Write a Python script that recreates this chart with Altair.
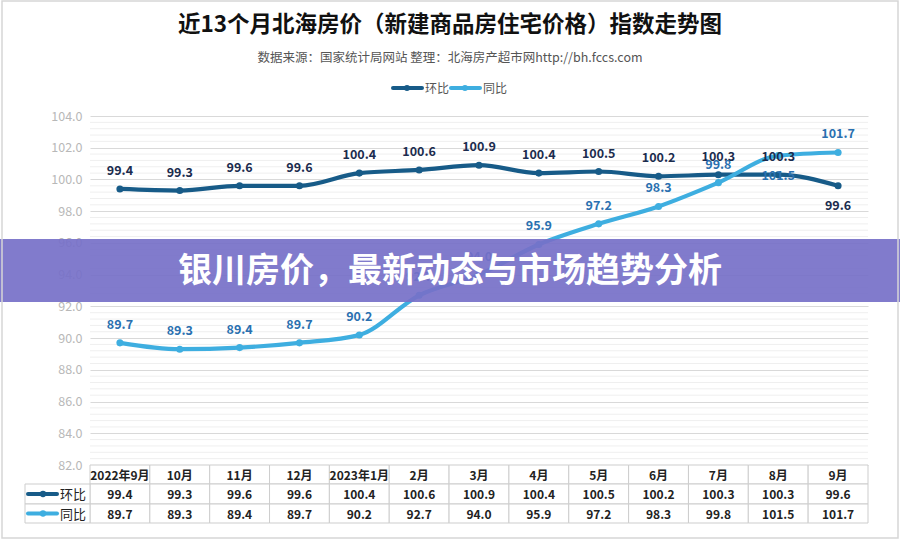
import altair as alt
import pandas as pd

months = ["2022年9月", "10月", "11月", "12月", "2023年1月", "2月", "3月",
          "4月", "5月", "6月", "7月", "8月", "9月"]
huanbi = [99.4, 99.3, 99.6, 99.6, 100.4, 100.6, 100.9, 100.4, 100.5, 100.2, 100.3, 100.3, 99.6]
tongbi = [89.7, 89.3, 89.4, 89.7, 90.2, 92.7, 94.0, 95.9, 97.2, 98.3, 99.8, 101.5, 101.7]
series_names = ["环比", "同比"]
y_ticks = [82, 84, 86, 88, 90, 92, 94, 96, 98, 100, 102, 104]

title_text = "近13个月北海房价（新建商品房住宅价格）指数走势图"
subtitle_text = "数据来源：国家统计局网站   整理：北海房产超市网http://bh.fccs.com"
banner_text = "银川房价，最新动态与市场趋势分析"

C_HB = "#175b88"
C_TB = "#3eaee0"
C_HB_LBL = "#1b2c4e"
C_TB_LBL = "#2a70b0"
FONT = "Noto Sans CJK SC"

rows = []
for m, a, b in zip(months, huanbi, tongbi):
    rows.append({"month": m, "series": "环比", "value": a, "label": f"{a:.1f}"})
    rows.append({"month": m, "series": "同比", "value": b, "label": f"{b:.1f}"})
df = pd.DataFrame(rows)
df_months = pd.DataFrame({"month": months,
                          "hb": [f"{v:.1f}" for v in huanbi],
                          "tb": [f"{v:.1f}" for v in tongbi]})

W, H = 778, 349
xscale = alt.Scale(type="band", domain=months, paddingInner=0, paddingOuter=0)
yscale = alt.Scale(domain=[82, 104], nice=False, zero=False)
X = alt.X("month:N", scale=xscale, axis=None, bandPosition=0.5)
Xband = alt.X("month:N", scale=xscale, axis=None)
color = alt.Color("series:N", scale=alt.Scale(domain=series_names, range=[C_HB, C_TB]), legend=None)

one = pd.DataFrame({"t": ["x"]})

yaxis = alt.Axis(values=y_ticks, format=".1f", labelColor="#b8b8b8", labelFontSize=12.5,
                 labelFont=FONT, ticks=False, domain=False, gridColor="#d9d9d9",
                 labelPadding=8, title=None, labelOverlap=False, labelFlush=False,
                 labelBound=False)
Y = alt.Y("value:Q", scale=yscale, axis=yaxis)

# minor gridlines
minor = alt.Chart(alt.sequence(82.4, 104.0, 0.4, as_="v")).transform_calculate(
    r="round(datum.v*10)"
).transform_filter("datum.r % 20 != 0").mark_rule(color="#efefef", strokeWidth=1).encode(
    y=alt.Y("v:Q", scale=yscale, axis=yaxis)
)

base = alt.Chart(df)
lines = base.mark_line(interpolate="monotone", strokeWidth=4.2).encode(
    x=X, y=Y, color=color, detail="series:N")
points = base.mark_circle(size=50, opacity=1).encode(x=X, y=Y, color=color)

label_layers = []
for name, lc, below_month in zip(series_names, [C_HB_LBL, C_TB_LBL], ["9月", "8月"]):
    s = base.transform_filter(alt.datum.series == name)
    label_layers.append(s.transform_filter(alt.datum.month != below_month).mark_text(
        dy=-18, font=FONT, fontSize=12.5, fontWeight="bold", color=lc
    ).encode(x=X, y=Y, text="label:N"))
    label_layers.append(s.transform_filter(alt.datum.month == below_month).mark_text(
        dy=20, font=FONT, fontSize=12.5, fontWeight="bold", color=lc
    ).encode(x=X, y=Y, text="label:N"))

# data table
tb_chart = alt.Chart(df_months)
row_bounds = [(349, 368), (368, 388), (388, 407)]
table_layers = []
for (y0, y1), field in zip(row_bounds, ["month", "hb", "tb"]):
    table_layers.append(tb_chart.mark_rect(fill="white", stroke="#cdcdcd", strokeWidth=1).encode(
        x=Xband, y=alt.value(y0), y2=alt.value(y1)))
    table_layers.append(tb_chart.mark_text(font=FONT, fontSize=12, fontWeight="bold", color="#222222").encode(
        x=X, y=alt.value((y0 + y1) / 2 + 1), text=f"{field}:N"))
for (y0, y1) in row_bounds[1:]:
    table_layers.append(alt.Chart(one).mark_rect(fill="white", stroke="#cdcdcd", strokeWidth=1).encode(
        x=alt.value(-65), x2=alt.value(0), y=alt.value(y0), y2=alt.value(y1)))
for (y0, y1), name, c in zip(row_bounds[1:], series_names, [C_HB, C_TB]):
    yc = (y0 + y1) / 2
    table_layers.append(alt.Chart(one).mark_rule(color=c, strokeWidth=4, strokeCap="round").encode(
        x=alt.value(-62), x2=alt.value(-33), y=alt.value(yc)))
    table_layers.append(alt.Chart(one).mark_circle(color=c, size=40, opacity=1).encode(
        x=alt.value(-47), y=alt.value(yc)))
    table_layers.append(alt.Chart(pd.DataFrame({"t": [name]})).mark_text(
        font=FONT, fontSize=13, align="left", color="#222222").encode(
        x=alt.value(-30), y=alt.value(yc + 1), text="t:N"))

# titles
title = alt.Chart(pd.DataFrame({"t": [title_text]})).mark_text(
    font=FONT, fontSize=22.5, fontWeight="bold", color="#111111").encode(
    x=alt.value(360), y=alt.value(-91), text="t:N")
subtitle = alt.Chart(pd.DataFrame({"t": [subtitle_text]})).mark_text(
    font=FONT, fontSize=12.5, color="#555555").encode(
    x=alt.value(360), y=alt.value(-58), text="t:N")

legend_layers = []
for name, c, x0 in zip(series_names, [C_HB, C_TB], [303, 361]):
    legend_layers.append(alt.Chart(one).mark_rule(color=c, strokeWidth=4, strokeCap="round").encode(
        x=alt.value(x0), x2=alt.value(x0 + 29), y=alt.value(-28)))
    legend_layers.append(alt.Chart(one).mark_circle(color=c, size=35, opacity=1).encode(
        x=alt.value(x0 + 14), y=alt.value(-28)))
    legend_layers.append(alt.Chart(pd.DataFrame({"t": [name]})).mark_text(
        font=FONT, fontSize=12, align="left", color="#555555").encode(
        x=alt.value(x0 + 32), y=alt.value(-27), text="t:N"))

# banner overlay
banner = alt.Chart(one).mark_rect(color="#7670c8", opacity=0.92).encode(
    x=alt.value(-90), x2=alt.value(810), y=alt.value(123), y2=alt.value(186))
banner_t = alt.Chart(pd.DataFrame({"t": [banner_text]})).mark_text(
    font=FONT, fontSize=34, fontWeight="bold", color="white").encode(
    x=alt.value(360), y=alt.value(156), text="t:N")

frame = alt.Chart(one).mark_rect(fill=None, stroke="#d6d6d6", strokeWidth=1.5).encode(
    x=alt.value(-88), x2=alt.value(808), y=alt.value(-115), y2=alt.value(422))

chart = alt.layer(
    minor, lines, points, *label_layers, *table_layers,
    title, subtitle, *legend_layers, banner, banner_t, frame
).properties(
    width=W, height=H,
    autosize=alt.AutoSizeParams(type="none"),
    padding={"left": 90, "top": 116, "right": 32, "bottom": 76},
    background="white",
).configure_view(stroke=None)

chart.save("out.html", embed_options={"renderer": "svg", "actions": False})
